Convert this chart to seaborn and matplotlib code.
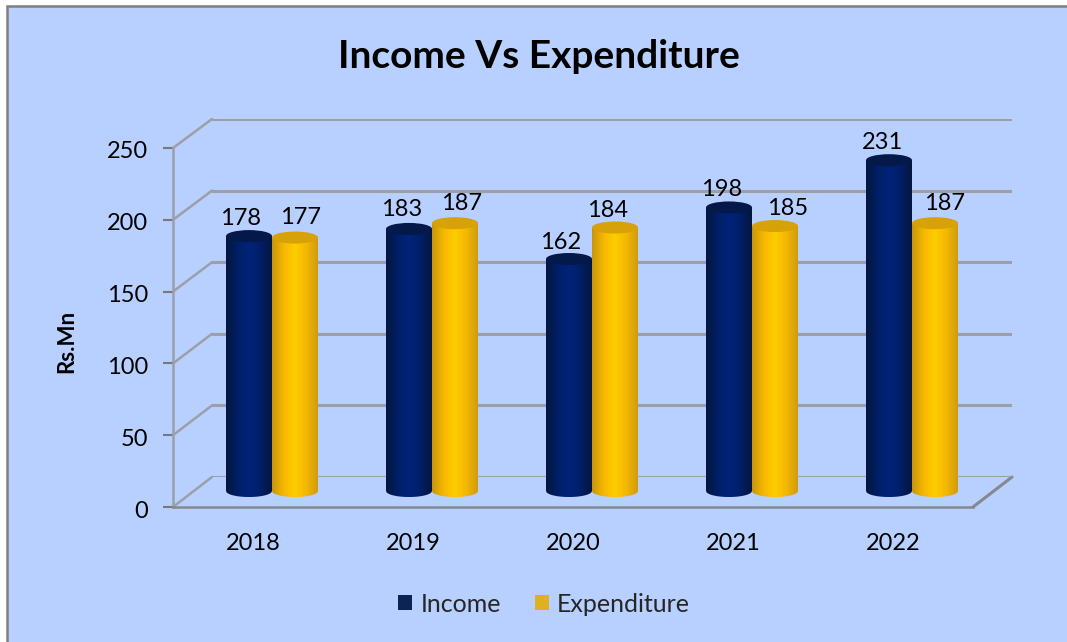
import numpy as np
import pandas as pd
import matplotlib
matplotlib.use("Agg")
import matplotlib.pyplot as plt
from matplotlib.colors import LinearSegmentedColormap
from matplotlib.lines import Line2D
from matplotlib.patches import Rectangle, Ellipse, PathPatch
from matplotlib.path import Path
from matplotlib.transforms import ScaledTranslation
import seaborn as sns

# Datos del grafico
years = ["2018", "2019", "2020", "2021", "2022"]
income = [178, 183, 162, 198, 231]
expenditure = [177, 187, 184, 185, 187]
y_ticks = [0, 50, 100, 150, 200, 250]

# Desplazamiento de cada etiqueta respecto a la barra (pixeles)
income_offsets = [(-8, 18), (-7, 19), (-8, 17), (-7, 18), (-6, 18)]
expense_offsets = [(5, 20), (6, 20), (-8, 17), (13, 18), (9, 20)]

W, H = 1067, 642
BG = "#b8d0ff"
GRID = "#9c9fa8"
NAVY = "#002060"
GOLD = "#ffc000"
FS = 17

sns.set_theme(style="white")
plt.rcParams["font.family"] = ["Lato", "DejaVu Sans"]

df = pd.DataFrame({
    "Year": years * 2,
    "Value": income + expenditure,
    "Series": ["Income"] * 5 + ["Expenditure"] * 5,
})

fig = plt.figure(figsize=(W / 100, H / 100), dpi=100, facecolor="white")


def box(x0, y0, x1, y1):
    # caja en pixeles de la imagen -> coordenadas de figura
    return [x0 / W, 1 - y1 / H, (x1 - x0) / W, (y1 - y0) / H]


def fig_line(xs, ys, **kw):
    fig.add_artist(Line2D([x / W for x in xs], [1 - y / H for y in ys],
                          transform=fig.transFigure, zorder=-0.5, **kw))


# Panel de fondo
fig.add_artist(Rectangle((7 / W, -0.01), 1.01, 1 - 6 / H + 0.01, transform=fig.transFigure,
                         facecolor=BG, edgecolor="#7f7f7f", linewidth=1.8, zorder=-1))

# Pared del fondo con las lineas de la cuadricula
ax_back = fig.add_axes(box(212, 119, 1012, 477))
ax_back.patch.set_visible(False)
ax_back.set_ylim(0, 250)
ax_back.set_xticks([])
ax_back.set_yticks(y_ticks)
ax_back.tick_params(left=False, labelleft=False)
ax_back.grid(axis="y", color=GRID, linewidth=2.2)
ax_back.set_axisbelow(True)
sns.despine(ax=ax_back, left=True, bottom=True)
for t in y_ticks:
    y_back = 477 - t * 358 / 250
    y_front = 507 - t * 359 / 250
    fig_line([173, 212], [y_front, y_back], color=GRID, linewidth=1.8)
fig_line([973, 1012], [507, 477], color="#85888f", linewidth=2.2)

# Ejes delanteros
ax = fig.add_axes(box(173, 148, 973, 507))
ax.patch.set_visible(False)
ax.set_ylim(0, 250)
ax.set_xlim(-0.5, 4.5)
ax.set_xticks(range(5), years)
ax.set_yticks(y_ticks)
ax.tick_params(axis="y", left=True, length=7, width=1.5, color="#77797f", pad=11, labelsize=FS, labelcolor="black")
ax.tick_params(axis="x", bottom=False, pad=13, labelsize=FS, labelcolor="black")
for side in ["top", "right"]:
    ax.spines[side].set_visible(False)
ax.spines["left"].set_color(GRID)
ax.spines["left"].set_linewidth(1.8)
ax.spines["bottom"].set_color("#85888f")
ax.spines["bottom"].set_linewidth(1.8)
nudge = ScaledTranslation(0, -2 / 100, fig.dpi_scale_trans)
for lab in ax.get_yticklabels():
    lab.set_transform(lab.get_transform() + nudge)

# Barras
ax_bar = fig.add_axes(box(192, 133, 992, 491))
ax_bar.patch.set_visible(False)
sns.barplot(data=df, x="Year", y="Value", hue="Series", palette=[NAVY, GOLD],
            hue_order=["Income", "Expenditure"], width=0.575, gap=0, ax=ax_bar)
ax_bar.axis("off")

ramps = [
    ["#05163f", "#001f66", "#00247a", "#001f66", "#05163f"],
    ["#c8960c", "#f5b800", "#ffcc00", "#f5b800", "#cf9c10"],
]
caps = ["#04184a", "#d6a208"]
cap_h = 4.2  # semialtura de la tapa, en unidades del eje

n = len(years)
for i, patch in enumerate(list(ax_bar.patches)[:2 * n]):
    k = 0 if i < n else 1
    x0, w, h = patch.get_x(), patch.get_width(), patch.get_height()
    patch.set_visible(False)
    cmap = LinearSegmentedColormap.from_list("c", ramps[k])
    xs = np.linspace(x0, x0 + w, 60)
    lower = [(x, -cap_h * np.sqrt(max(0, 1 - ((x - x0 - w / 2) / (w / 2)) ** 2))) for x in xs]
    verts = [(x0, h)] + lower + [(x0 + w, h), (x0, h)]
    clip = PathPatch(Path(verts), transform=ax_bar.transData, facecolor="none", edgecolor="none")
    ax_bar.add_patch(clip)
    img = ax_bar.imshow(np.linspace(0, 1, 64).reshape(1, -1), cmap=cmap, aspect="auto",
                        extent=(x0, x0 + w, -cap_h, h), zorder=3 + k + i * 0.01, interpolation="bilinear")
    img.set_clip_path(clip)
    img.set_clip_box(fig.bbox)
    ax_bar.add_patch(Ellipse((x0 + w / 2, h), w, 2 * cap_h, facecolor=caps[k], edgecolor="none",
                             zorder=3 + k + i * 0.01 + 0.001))
ax_bar.set_ylim(0, 250)
ax_bar.set_xlim(-0.5, 4.5)

# Etiquetas de valores
for j, (a, b) in enumerate(zip(income, expenditure)):
    ax_bar.annotate(str(a), (j - 0.144, a), xytext=income_offsets[j], textcoords="offset pixels",
                    ha="center", va="center", fontsize=FS, color="black", zorder=10, annotation_clip=False)
    ax_bar.annotate(str(b), (j + 0.144, b), xytext=expense_offsets[j], textcoords="offset pixels",
                    ha="center", va="center", fontsize=FS, color="black", zorder=10, annotation_clip=False)

# Leyenda
sns.move_legend(ax_bar, loc="center", bbox_to_anchor=(544 / W, 1 - 604 / H), bbox_transform=fig.transFigure,
                ncol=2, frameon=False, title=None, fontsize=18, handlelength=0.56, handleheight=0.56,
                handletextpad=0.32, columnspacing=1.35)
for handle in ax_bar.get_legend().legend_handles:
    handle.set_linewidth(0)

# Titulo y etiqueta del eje
fig.text(539 / W, 1 - 56 / H, "Income Vs Expenditure", ha="center", va="center",
         fontsize=28, fontweight="bold", color="black")
fig.text(67 / W, 1 - 341 / H, "Rs.Mn", ha="center", va="center", rotation=90,
         fontsize=16, fontweight="bold", color="black")

plt.savefig("out.png", dpi=100)
